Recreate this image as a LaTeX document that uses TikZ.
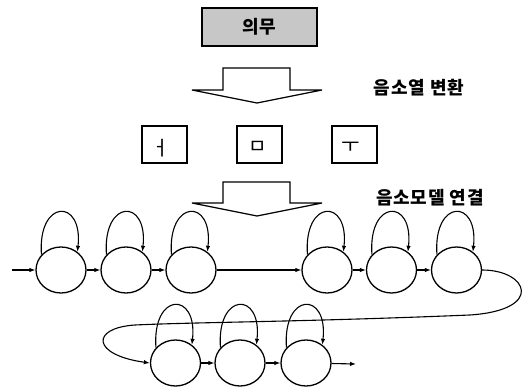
\documentclass[tikz,border=0pt]{standalone}
\usepackage{fontspec}
\newfontfamily\kr{Noto Sans CJK KR}
\newfontfamily\krsp[LetterSpace=5]{Noto Sans CJK KR}
\usetikzlibrary{shapes.geometric,arrows.meta}
\tikzset{
  state/.style={ellipse,draw,line width=1.3pt,minimum width=50pt,minimum height=46pt,inner sep=0pt},
  conn/.style={line width=1.1pt,-{Latex[length=6pt,width=4.5pt]}},
  loopc/.style={line width=1.1pt,-{Latex[length=6pt,width=4.5pt]}},
  phon/.style={draw,line width=1.3pt,minimum width=45pt,minimum height=37pt,inner sep=0pt},
  jamo/.style={inner sep=0pt,font=\kr\fontsize{20}{20}\selectfont},
  bigarrow/.style={draw,line width=1.2pt,fill=white,line join=miter},
  lab/.style={font=\krsp\bfseries\fontsize{18}{18}\selectfont,inner sep=0pt}
}
\begin{document}
\begin{tikzpicture}[x=1pt,y=-1pt]
\useasboundingbox (0,0) rectangle (523,387);
% top word box
\node[draw,line width=1.5pt,fill=black!22,minimum width=115pt,minimum height=38pt,inner sep=0pt,font=\kr\bfseries\fontsize{18}{18}\selectfont] (word) at (259.5,27) {의무};
% big arrow 1
\draw[bigarrow] (223,68) -- (290,68) -- (290,90) -- (322,90) -- (257,103) -- (192,90) -- (223,90) -- cycle;
\node[lab] (l1) at (419,88) {음소열 변환};
% phoneme boxes
\node[phon] (p1) at (164.5,144.5) {};
\node[phon] (p2) at (259.5,144.5) {};
\node[phon] (p3) at (354.5,144.5) {};
\node[jamo] (j1) at (160.5,148) {ㅓ};
\node[jamo] (j2) at (257.5,147) {ㅁ};
\node[jamo] (j3) at (350.5,147.5) {ㅜ};
% big arrow 2
\draw[bigarrow] (223,182) -- (290,182) -- (290,203) -- (322,203) -- (257,216) -- (192,203) -- (223,203) -- cycle;
\node[lab] (l2) at (430,198) {음소모델 연결};
% states top row
\node[state] (s1) at (61,270) {};
\node[state] (s2) at (126,270) {};
\node[state] (s3) at (191,270) {};
\node[state] (s4) at (327,270) {};
\node[state] (s5) at (391.5,270) {};
\node[state] (s6) at (456.5,270) {};
% bottom row
\node[state] (s7) at (175.5,363) {};
\node[state] (s8) at (240,363) {};
\node[state] (s9) at (306,363) {};
\coordinate (in) at (12,270);
\coordinate (out) at (356,364);
% self loops
\foreach \s in {s1,s2,s3,s4,s5,s6,s7,s8,s9}{
  \draw[loopc] (\s.142) .. controls +(-4,-56) and +(6,-54) .. (\s.48);
}
% transitions
\draw[conn] (in) -- (s1);
\draw[conn] (s1) -- (s2);
\draw[conn] (s2) -- (s3);
\draw[conn] (s3) -- (s4);
\draw[conn] (s4) -- (s5);
\draw[conn] (s5) -- (s6);
\draw[conn] (s6.east) .. controls (528,270) and (545,310) .. (470,315)
  .. controls (300,322) and (200,322) .. (135,325)
  .. controls (90,328) and (92,355) .. (s7.west);
\draw[conn] (s7) -- (s8);
\draw[conn] (s8) -- (s9);
\draw[conn] (s9) -- (out);
\end{tikzpicture}
\end{document}
